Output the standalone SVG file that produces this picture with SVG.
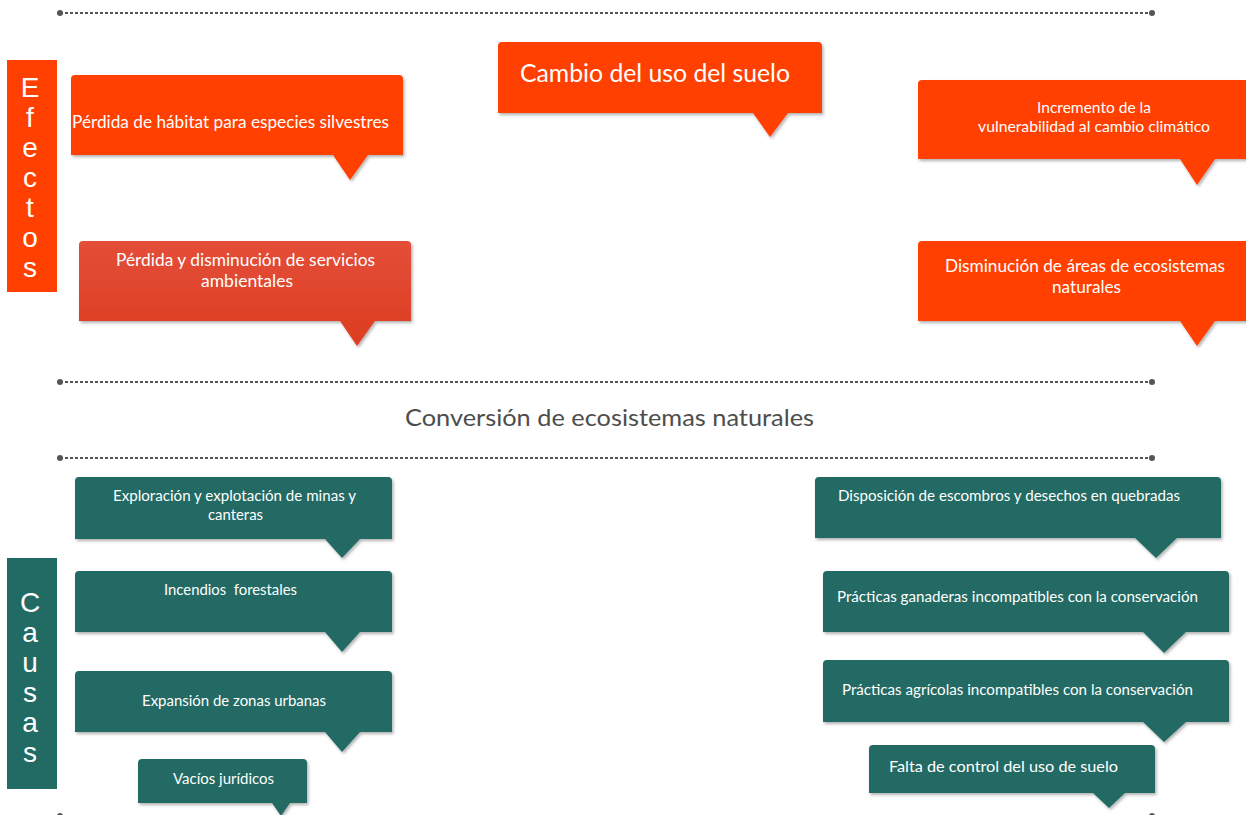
<svg xmlns="http://www.w3.org/2000/svg" width="1246" height="815" viewBox="0 0 1246 815">
<defs>
  <filter id="sh" x="-5%" y="-10%" width="110%" height="130%">
    <feDropShadow dx="1.5" dy="2" stdDeviation="1.5" flood-color="#000" flood-opacity="0.3"/>
  </filter>
  <linearGradient id="g4" x1="0" y1="0" x2="0" y2="1">
    <stop offset="0" stop-color="#e44e38"/>
    <stop offset="1" stop-color="#dc3d21"/>
  </linearGradient>
</defs>
<style>
  .dot { stroke:#555; stroke-width:2; stroke-dasharray:3 2; fill:none; }
  .end { fill:#555; }
  .eff { fill:#ff4000; filter:url(#sh); }
  .cau { fill:#216b64; filter:url(#sh); }
  .t { font-family:Lato, "Open Sans", sans-serif; fill:#fff; }
  .side { font-family:"Liberation Sans", Arial, sans-serif; font-size:28px; fill:#fff; text-anchor:middle; }
  .title { font-family:Lato, "Open Sans", sans-serif; font-size:24px; fill:#4d4d4d; }
</style>
<rect width="1246" height="815" fill="#fff"/>

<g id="connectors">
  <line class="dot" x1="60" y1="13" x2="1152" y2="13"/>
  <circle class="end" cx="60" cy="13" r="3"/><circle class="end" cx="1152" cy="13" r="3"/>
  <line class="dot" x1="60" y1="382" x2="1152" y2="382"/>
  <circle class="end" cx="60" cy="382" r="3"/><circle class="end" cx="1152" cy="382" r="3"/>
  <line class="dot" x1="60" y1="458" x2="1152" y2="458"/>
  <circle class="end" cx="60" cy="458" r="3"/><circle class="end" cx="1152" cy="458" r="3"/>
  <line class="dot" x1="60" y1="816" x2="1152" y2="816"/>
  <circle class="end" cx="60" cy="816" r="3"/><circle class="end" cx="1152" cy="816" r="3"/>
</g>

<g id="efectos">
  <rect x="7" y="60" width="50" height="232" fill="#ff4000"/>
  <text class="side" x="30" y="97">E</text>
  <text class="side" x="30" y="127">f</text>
  <text class="side" x="30" y="157">e</text>
  <text class="side" x="30" y="187">c</text>
  <text class="side" x="30" y="217">t</text>
  <text class="side" x="30" y="247">o</text>
  <text class="side" x="30" y="277">s</text>
</g>

<g id="causas">
  <rect x="7" y="558" width="50" height="231" fill="#216b64"/>
  <text class="side" x="30" y="612">C</text>
  <text class="side" x="30" y="642">a</text>
  <text class="side" x="30" y="672">u</text>
  <text class="side" x="30" y="702">s</text>
  <text class="side" x="30" y="732">a</text>
  <text class="side" x="30" y="762">s</text>
</g>

<g id="title">
  <text class="title" x="405" y="426" textLength="409" lengthAdjust="spacingAndGlyphs">Conversión de ecosistemas naturales</text>
</g>

<g id="n1">
  <path class="eff" d="M71 79 Q71 75 75 75 H399 Q403 75 403 79 V155 H368 L350 180 L333 155 H71 Z"/>
  <text class="t" x="72" y="128" font-size="17" textLength="317" lengthAdjust="spacingAndGlyphs">Pérdida de hábitat para especies silvestres</text>
</g>
<g id="n2">
  <path class="eff" d="M498 46 Q498 42 502 42 H818 Q822 42 822 46 V113 H788 L770 137 L753 113 H498 Z"/>
  <text class="t" x="520" y="82" font-size="25" textLength="270" lengthAdjust="spacingAndGlyphs">Cambio del uso del suelo</text>
</g>
<g id="n3">
  <path class="eff" d="M918 84 Q918 80 922 80 H1250 V159 H1215 L1197 185 L1180 159 H918 Z"/>
  <text class="t" x="1037" y="113" font-size="15" textLength="114" lengthAdjust="spacingAndGlyphs">Incremento de la</text>
  <text class="t" x="978" y="132" font-size="15" textLength="232" lengthAdjust="spacingAndGlyphs">vulnerabilidad al cambio climático</text>
</g>
<g id="n4">
  <path fill="url(#g4)" filter="url(#sh)" d="M79 245 Q79 241 83 241 H407 Q411 241 411 245 V321 H375 L357 346 L340 321 H79 Z"/>
  <text class="t" x="116" y="266" font-size="16.5" textLength="259" lengthAdjust="spacingAndGlyphs">Pérdida y disminución de servicios</text>
  <text class="t" x="201" y="287" font-size="16.5" textLength="92" lengthAdjust="spacingAndGlyphs">ambientales</text>
</g>
<g id="n5">
  <path class="eff" d="M918 245 Q918 241 922 241 H1250 V321 H1215 L1197 346 L1180 321 H918 Z"/>
  <text class="t" x="945" y="272" font-size="16.5" textLength="280" lengthAdjust="spacingAndGlyphs">Disminución de áreas de ecosistemas</text>
  <text class="t" x="1052" y="293" font-size="16.5" textLength="69" lengthAdjust="spacingAndGlyphs">naturales</text>
</g>

<g id="n6">
  <path class="cau" d="M75 481 Q75 477 79 477 H388 Q392 477 392 481 V539 H360 L342 558 L325 539 H75 Z"/>
  <text class="t" x="113" y="501" font-size="14.5" textLength="243" lengthAdjust="spacingAndGlyphs">Exploración y explotación de minas y</text>
  <text class="t" x="208" y="520" font-size="14.5" textLength="55" lengthAdjust="spacingAndGlyphs">canteras</text>
</g>
<g id="n7">
  <path class="cau" d="M75 575 Q75 571 79 571 H388 Q392 571 392 575 V632 H360 L342 652 L325 632 H75 Z"/>
  <text class="t" x="164" y="595" font-size="14.5" textLength="133" lengthAdjust="spacingAndGlyphs" xml:space="preserve">Incendios  forestales</text>
</g>
<g id="n8">
  <path class="cau" d="M75 675 Q75 671 79 671 H388 Q392 671 392 675 V732 H360 L342 752 L325 732 H75 Z"/>
  <text class="t" x="142" y="706" font-size="14.5" textLength="184" lengthAdjust="spacingAndGlyphs">Expansión de zonas urbanas</text>
</g>
<g id="n9">
  <path class="cau" d="M138 763 Q138 759 142 759 H303 Q307 759 307 763 V803 H290 L281 816 L272 803 H138 Z"/>
  <text class="t" x="173" y="784" font-size="14.5" textLength="101" lengthAdjust="spacingAndGlyphs">Vacíos jurídicos</text>
</g>
<g id="n10">
  <path class="cau" d="M815 481 Q815 477 819 477 H1217 Q1221 477 1221 481 V538 H1177 L1156 558 L1135 538 H815 Z"/>
  <text class="t" x="838" y="501" font-size="14.5" textLength="342" lengthAdjust="spacingAndGlyphs">Disposición de escombros y desechos en quebradas</text>
</g>
<g id="n11">
  <path class="cau" d="M823 575 Q823 571 827 571 H1225 Q1229 571 1229 575 V632 H1186 L1164 653 L1143 632 H823 Z"/>
  <text class="t" x="837" y="602" font-size="14.5" textLength="361" lengthAdjust="spacingAndGlyphs">Prácticas ganaderas incompatibles con la conservación</text>
</g>
<g id="n12">
  <path class="cau" d="M823 664 Q823 660 827 660 H1225 Q1229 660 1229 664 V722 H1186 L1164 742 L1143 722 H823 Z"/>
  <text class="t" x="842" y="695" font-size="14.5" textLength="351" lengthAdjust="spacingAndGlyphs">Prácticas agrícolas incompatibles con la conservación</text>
</g>
<g id="n13">
  <path class="cau" d="M869 749 Q869 745 873 745 H1151 Q1155 745 1155 749 V793 H1125 L1109 808 L1093 793 H869 Z"/>
  <text class="t" x="889" y="772" font-size="15" textLength="229" lengthAdjust="spacingAndGlyphs">Falta de control del uso de suelo</text>
</g>
</svg>
